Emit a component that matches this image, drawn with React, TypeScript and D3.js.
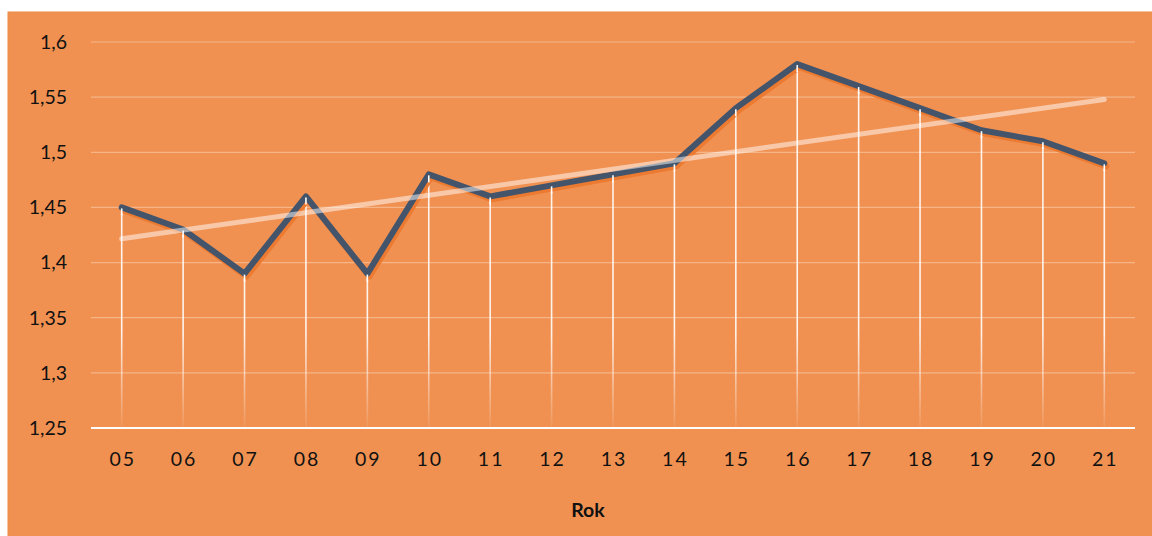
import React from "react";
import * as d3 from "d3";

const years = ["05","06","07","08","09","10","11","12","13","14","15","16","17","18","19","20","21"];
const values = [1.45,1.43,1.39,1.46,1.39,1.48,1.46,1.47,1.48,1.49,1.54,1.58,1.56,1.54,1.52,1.51,1.49];
const yTicks = [1.25,1.3,1.35,1.4,1.45,1.5,1.55,1.6];
const xTitle = "Rok";

const W = 1152, H = 536;
const frame = { x: 8, y: 12, w: 1160, h: 540 };
const plot = { left: 91, right: 1135, top: 42, bottom: 428 };

export default function App() {
  const x = d3.scaleBand<string>().domain(years).range([plot.left, plot.right]);
  const y = d3.scaleLinear().domain([1.25, 1.6]).range([plot.bottom, plot.top]);
  const cx = (d: string) => (x(d) ?? 0) + x.bandwidth() / 2;

  const pts: [number, number][] = years.map((d, i) => [cx(d), y(values[i])]);
  const line = d3.line<[number, number]>().x(p => p[0]).y(p => p[1]);

  // linear trend (least squares)
  const n = values.length;
  const mx = (n - 1) / 2;
  const my = d3.mean(values) as number;
  let sxy = 0, sxx = 0;
  values.forEach((v, i) => { sxy += (i - mx) * (v - my); sxx += (i - mx) * (i - mx); });
  const slope = sxy / sxx;
  const t0 = my - slope * mx;
  const t1 = t0 + slope * (n - 1);

  const fmt = (v: number) => String(+v.toFixed(2)).replace(".", ",");
  const font = "Lato, 'Open Sans', sans-serif";

  return (
    <svg width={W} height={H} style={{ position: "absolute", left: 0, top: 0 }}>
      <defs>
        <linearGradient id="drop" gradientUnits="userSpaceOnUse" x1="0" y1={plot.top} x2="0" y2={plot.bottom}>
          <stop offset="0.75" stopColor="#ffffff" stopOpacity="0.9" />
          <stop offset="1" stopColor="#ffffff" stopOpacity="0.05" />
        </linearGradient>
      </defs>
      <rect x={frame.x} y={frame.y} width={frame.w} height={frame.h} fill="#F09152" stroke="#EE8A45" strokeWidth={1} />
      {yTicks.map(t => (
        <g key={t}>
          {t !== 1.25 && (
            <line x1={plot.left} x2={plot.right} y1={y(t)} y2={y(t)} stroke="#F5B587" strokeWidth={1.2} />
          )}
          <text x={67} y={y(t)} dy="0.35em" textAnchor="end" fontFamily={font} fontSize={19.5} fill="#111">
            {fmt(t)}
          </text>
        </g>
      ))}
      {years.map((d, i) => (
        <line key={"d" + d} x1={cx(d)} x2={cx(d)} y1={y(values[i])} y2={plot.bottom} stroke="url(#drop)" strokeWidth={1.6} />
      ))}
      <line x1={plot.left} x2={plot.right} y1={plot.bottom} y2={plot.bottom} stroke="#ffffff" strokeWidth={2.2} />
      <path d={line(pts.map(p => [p[0] + 2, p[1] + 3] as [number, number])) ?? ""} fill="none" stroke="#EC7A30" strokeWidth={6} strokeLinejoin="round" strokeLinecap="round" />
      <path d={line(pts) ?? ""} fill="none" stroke="#44546A" strokeWidth={6} strokeLinejoin="round" strokeLinecap="round" />
      {years.map((d, i) => (
        <line key={"t" + d} x1={cx(d)} x2={cx(d)} y1={y(values[i]) + 1} y2={y(values[i]) + 8} stroke="#ffffff" strokeWidth={1.6} />
      ))}
      <line x1={cx(years[0])} x2={cx(years[n - 1])} y1={y(t0)} y2={y(t1)} stroke="#ffffff" strokeOpacity={0.5} strokeWidth={5} strokeLinecap="round" />
      {years.map(d => (
        <text key={"x" + d} x={cx(d) + 1} y={459} dy="0.35em" textAnchor="middle" fontFamily={font} fontSize={19.5} letterSpacing={2} fill="#111">
          {d}
        </text>
      ))}
      <text x={frame.x + frame.w / 2} y={510} dy="0.35em" textAnchor="middle" fontFamily={font} fontSize={19.5} fontWeight="bold" fill="#111">
        {xTitle}
      </text>
    </svg>
  );
}
